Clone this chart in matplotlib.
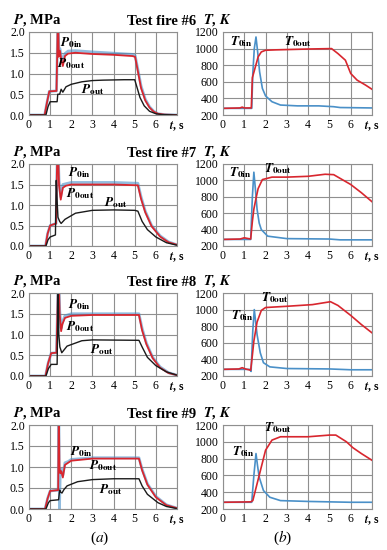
import matplotlib
matplotlib.use("Agg")
import matplotlib.pyplot as plt

plt.rcParams['font.family'] = ['Liberation Serif', 'DejaVu Serif']
plt.rcParams['mathtext.fontset'] = 'stix'

# ── Test fire #6 ─────────────────────────────────────────────────────────
tp_6    = [0, 0.74, 0.85, 0.96, 1.3, 1.34, 1.37, 1.41, 1.46, 1.52, 1.6, 1.7, 1.85, 2.2, 3.0, 4.0, 4.9, 5.02, 5.15, 5.3, 5.5, 5.7, 5.9, 6.1, 6.4, 7.0]
p0in_6  = [0, 0, 0.3, 0.57, 0.58, 1.6, 2.6, 1.5, 1.6, 1.45, 1.3, 1.48, 1.54, 1.55, 1.52, 1.49, 1.46, 1.43, 1.1, 0.7, 0.38, 0.2, 0.09, 0.03, 0.01, 0]
p0out_6 = [0, 0, 0.3, 0.57, 0.58, 1.6, 2.6, 1.4, 1.55, 1.35, 1.18, 1.42, 1.48, 1.5, 1.47, 1.45, 1.42, 1.40, 1.05, 0.65, 0.35, 0.18, 0.08, 0.03, 0.01, 0]
tpo_6   = [0, 0.8, 0.9, 1.0, 1.33, 1.36, 1.45, 1.52, 1.6, 1.75, 2.0, 2.5, 3.0, 3.5, 4.5, 5.0, 5.1, 5.25, 5.45, 5.7, 6.0, 6.3, 7.0]
pout_6  = [0, 0, 0.2, 0.32, 0.32, 0.5, 0.5, 0.62, 0.55, 0.68, 0.74, 0.8, 0.83, 0.84, 0.85, 0.85, 0.68, 0.42, 0.22, 0.09, 0.03, 0.01, 0]
tt_6    = [0, 1.35, 1.4, 1.47, 1.55, 1.62, 1.72, 1.85, 2.0, 2.3, 2.7, 3.5, 4.5, 5.2, 5.5, 7.0]
t0in_6  = [280, 280, 700, 1000, 1140, 980, 720, 520, 430, 360, 320, 310, 310, 300, 290, 285]
tto_6   = [0, 0.8, 0.9, 1.0, 1.33, 1.38, 1.5, 1.65, 1.8, 2.0, 2.5, 4.0, 5.1, 5.4, 5.75, 6.0, 6.3, 6.7, 7.0]
t0out_6 = [280, 285, 295, 285, 285, 650, 760, 900, 960, 980, 985, 995, 1000, 940, 860, 700, 620, 560, 510]

# ── Test fire #7 ─────────────────────────────────────────────────────────
tp_7    = [0, 0.78, 0.88, 1.0, 1.28, 1.32, 1.36, 1.42, 1.5, 1.6, 1.75, 2.0, 3.0, 4.0, 5.15, 5.3, 5.5, 5.8, 6.2, 6.6, 7.0]
p0in_7  = [0, 0, 0.3, 0.5, 0.55, 1.8, 2.6, 1.6, 1.2, 1.5, 1.52, 1.55, 1.55, 1.55, 1.53, 1.2, 0.85, 0.5, 0.25, 0.1, 0.03]
p0out_7 = [0, 0, 0.3, 0.5, 0.55, 1.8, 2.6, 1.5, 1.13, 1.42, 1.47, 1.5, 1.5, 1.5, 1.48, 1.15, 0.82, 0.48, 0.23, 0.09, 0.03]
tpo_7   = [0, 0.8, 0.9, 1.0, 1.25, 1.29, 1.32, 1.37, 1.45, 1.52, 1.7, 2.2, 3.0, 4.0, 5.0, 5.15, 5.35, 5.6, 6.0, 6.5, 7.0]
pout_7  = [0, 0, 0.15, 0.22, 0.27, 1.6, 1.2, 0.7, 0.6, 0.55, 0.65, 0.8, 0.87, 0.88, 0.87, 0.85, 0.6, 0.4, 0.22, 0.08, 0.02]
tt_7    = [0, 1.3, 1.38, 1.45, 1.52, 1.6, 1.7, 1.8, 2.1, 3.0, 5.0, 5.5, 7.0]
t0in_7  = [280, 280, 800, 1100, 900, 650, 480, 400, 320, 290, 285, 275, 275]
tto_7   = [0, 0.8, 1.0, 1.3, 1.38, 1.45, 1.55, 1.65, 1.85, 2.3, 3.0, 4.0, 4.8, 5.2, 6.0, 6.5, 7.0]
t0out_7 = [280, 285, 300, 285, 500, 650, 780, 900, 1010, 1040, 1040, 1050, 1075, 1070, 950, 850, 740]

# ── Test fire #8 ─────────────────────────────────────────────────────────
tp_8    = [0, 0.78, 0.9, 1.05, 1.3, 1.36, 1.4, 1.45, 1.52, 1.58, 1.7, 2.0, 3.0, 4.0, 5.2, 5.35, 5.55, 5.85, 6.2, 6.6, 7.0]
p0in_8  = [0, 0, 0.3, 0.55, 0.56, 1.9, 2.6, 1.6, 1.15, 1.3, 1.45, 1.5, 1.5, 1.5, 1.5, 1.15, 0.8, 0.45, 0.22, 0.08, 0.02]
p0out_8 = [0, 0, 0.3, 0.55, 0.56, 1.9, 2.6, 1.5, 1.08, 1.25, 1.4, 1.45, 1.47, 1.47, 1.47, 1.1, 0.77, 0.43, 0.2, 0.07, 0.02]
tpo_8   = [0, 0.8, 0.92, 1.05, 1.33, 1.38, 1.41, 1.46, 1.55, 1.8, 2.5, 3.0, 5.2, 5.35, 5.6, 6.0, 6.5, 7.0]
pout_8  = [0, 0, 0.18, 0.28, 0.28, 2.1, 1.0, 0.7, 0.56, 0.72, 0.85, 0.87, 0.86, 0.7, 0.45, 0.25, 0.1, 0.02]
tt_8    = [0, 1.25, 1.32, 1.4, 1.47, 1.6, 1.75, 1.9, 2.2, 3.0, 5.0, 6.0, 7.0]
t0in_8  = [280, 280, 255, 750, 1000, 700, 480, 360, 310, 290, 285, 275, 275]
tto_8   = [0, 0.75, 0.9, 1.05, 1.3, 1.38, 1.45, 1.6, 1.8, 2.0, 3.0, 4.2, 5.05, 5.4, 6.0, 6.5, 7.0]
t0out_8 = [280, 285, 300, 285, 270, 450, 620, 850, 990, 1025, 1040, 1060, 1095, 1050, 930, 820, 720]

# ── Test fire #9 ─────────────────────────────────────────────────────────
tp_9    = [0, 0.76, 0.88, 1.0, 1.38, 1.41, 1.44, 1.48, 1.53, 1.6, 1.7, 1.85, 2.0, 3.0, 4.0, 5.2, 5.35, 5.6, 6.0, 6.5, 7.0]
p0in_9  = [0, 0, 0.25, 0.43, 0.45, 2.5, 0.0, 0.9, 0.95, 0.8, 1.1, 1.13, 1.18, 1.22, 1.22, 1.22, 0.95, 0.6, 0.3, 0.1, 0.02]
p0out_9 = [0, 0, 0.25, 0.43, 0.45, 2.5, 1.0, 0.85, 0.9, 0.75, 1.05, 1.1, 1.15, 1.2, 1.2, 1.2, 0.92, 0.58, 0.28, 0.09, 0.02]
tpo_9   = [0, 0.8, 0.92, 1.0, 1.4, 1.45, 1.5, 1.56, 1.65, 1.8, 2.3, 3.0, 4.0, 5.2, 5.35, 5.6, 6.1, 6.5, 7.0]
pout_9  = [0, 0, 0.15, 0.2, 0.22, 0.45, 0.4, 0.38, 0.46, 0.55, 0.65, 0.7, 0.72, 0.72, 0.55, 0.35, 0.15, 0.06, 0.01]
tt_9    = [0, 1.35, 1.45, 1.55, 1.62, 1.7, 1.9, 2.2, 2.7, 4.0, 5.0, 6.0, 7.0]
t0in_9  = [280, 280, 600, 860, 720, 580, 420, 340, 300, 290, 285, 280, 280]
tto_9   = [0, 1.3, 1.4, 1.5, 1.6, 1.8, 2.0, 2.3, 2.7, 4.0, 5.0, 5.3, 5.8, 6.1, 6.5, 7.0]
t0out_9 = [280, 285, 300, 400, 500, 700, 900, 1020, 1060, 1060, 1080, 1080, 1000, 930, 860, 780]

# label positions (data coords) for each panel
fires = [6, 7, 8, 9]
p_lab = [((2.0, 1.75), (2.0, 1.25), (3.0, 0.62)),
         ((2.4, 1.78), (2.4, 1.27), (4.1, 1.05)),
         ((2.4, 1.71), (2.4, 1.18), (3.45, 0.64)),
         ((2.5, 1.36), (3.5, 1.04), (3.85, 0.46))]
t_lab = [((0.85, 1090), (3.5, 1090)),
         ((0.8, 1090), (2.6, 1140)),
         ((0.9, 930), (2.45, 1140)),
         ((0.95, 880), (2.6, 1165))]

P_DATA = [(tp_6, p0in_6, p0out_6, tpo_6, pout_6),
          (tp_7, p0in_7, p0out_7, tpo_7, pout_7),
          (tp_8, p0in_8, p0out_8, tpo_8, pout_8),
          (tp_9, p0in_9, p0out_9, tpo_9, pout_9)]
T_DATA = [(tt_6, t0in_6, tto_6, t0out_6),
          (tt_7, t0in_7, tto_7, t0out_7),
          (tt_8, t0in_8, tto_8, t0out_8),
          (tt_9, t0in_9, tto_9, t0out_9)]

BLUE = '#4a90c8'
RED = '#d8262e'
BLACK = '#1a1a1a'
GRID = '#8f8f8f'

W, H = 387, 550
fig = plt.figure(figsize=(W / 100, H / 100), dpi=100)

rows_px = [(32, 115), (164, 246), (293, 376), (425, 509)]
left_px = (29, 177)
right_px = (223, 372)


def make_ax(xpx, ypx):
    ax = fig.add_axes([xpx[0] / W, 1 - ypx[1] / H,
                       (xpx[1] - xpx[0]) / W, (ypx[1] - ypx[0]) / H])
    ax.set_xlim(0, 7)
    ax.set_xticks(range(8))
    ax.set_xticklabels([str(i) for i in range(7)] + [r'$\mathbfit{t}$, s'])
    ax.get_xticklabels()[-1].set_fontweight('bold')
    ax.get_xticklabels()[-1].set_fontsize(9.5)
    ax.tick_params(length=0, labelsize=8.5, pad=3)
    ax.grid(True, color=GRID, lw=0.8)
    ax.set_axisbelow(True)
    for s in ax.spines.values():
        s.set_color(GRID)
        s.set_linewidth(0.8)
    return ax


for i, fire in enumerate(fires):
    ypx = rows_px[i]
    # pressure panel
    tp, p0in, p0out, tpo, pout = P_DATA[i]
    ax = make_ax(left_px, ypx)
    ax.set_ylim(0, 2.0)
    ax.set_yticks([0, 0.5, 1.0, 1.5, 2.0])
    ax.set_yticklabels(['0.0', '0.5', '1.0', '1.5', '2.0'])
    ax.plot(tp, p0in, color=BLUE, lw=2.0, alpha=0.6)
    ax.plot(tp, p0out, color=RED, lw=1.3)
    ax.plot(tpo, pout, color=BLACK, lw=1.0)
    (a, b, c) = p_lab[i]
    kw = dict(fontsize=9.5, ha='center', va='center')
    ax.text(*a, r'$\mathbfit{P}_{\mathbf{0in}}$', **kw)
    ax.text(*b, r'$\mathbfit{P}_{\mathbf{0out}}$', **kw)
    ax.text(*c, r'$\mathbfit{P}_{\mathbf{out}}$', **kw)
    fig.text(13 / W, 1 - (ypx[0] - 4) / H, r'$\mathbfit{P}$, MPa',
             fontsize=10.5, fontweight='bold', ha='left', va='bottom')
    fig.text(196 / W, 1 - (ypx[0] - 4) / H, f'Test fire #{fire}',
             fontsize=10.5, fontweight='bold', ha='right', va='bottom')

    # temperature panel
    tt, t0in, tto, t0out = T_DATA[i]
    ax = make_ax(right_px, ypx)
    ax.set_ylim(200, 1200)
    ax.set_yticks(range(200, 1201, 200))
    ax.plot(tt, t0in, color=BLUE, lw=1.2)
    ax.plot(tto, t0out, color=RED, lw=1.2)
    (a, b) = t_lab[i]
    ax.text(*a, r'$\mathbfit{T}_{\mathbf{0in}}$', **kw)
    ax.text(*b, r'$\mathbfit{T}_{\mathbf{0out}}$', **kw)
    fig.text(203 / W, 1 - (ypx[0] - 4) / H, r'$\mathbfit{T}$, $\mathbfit{K}$',
             fontsize=10.5, fontweight='bold', ha='left', va='bottom')

fig.text(100 / W, 1 - 538 / H, r'($\mathit{a}$)', fontsize=11, ha='center', va='center')
fig.text(283 / W, 1 - 538 / H, r'($\mathit{b}$)', fontsize=11, ha='center', va='center')

fig.savefig('out.png', dpi=100)
